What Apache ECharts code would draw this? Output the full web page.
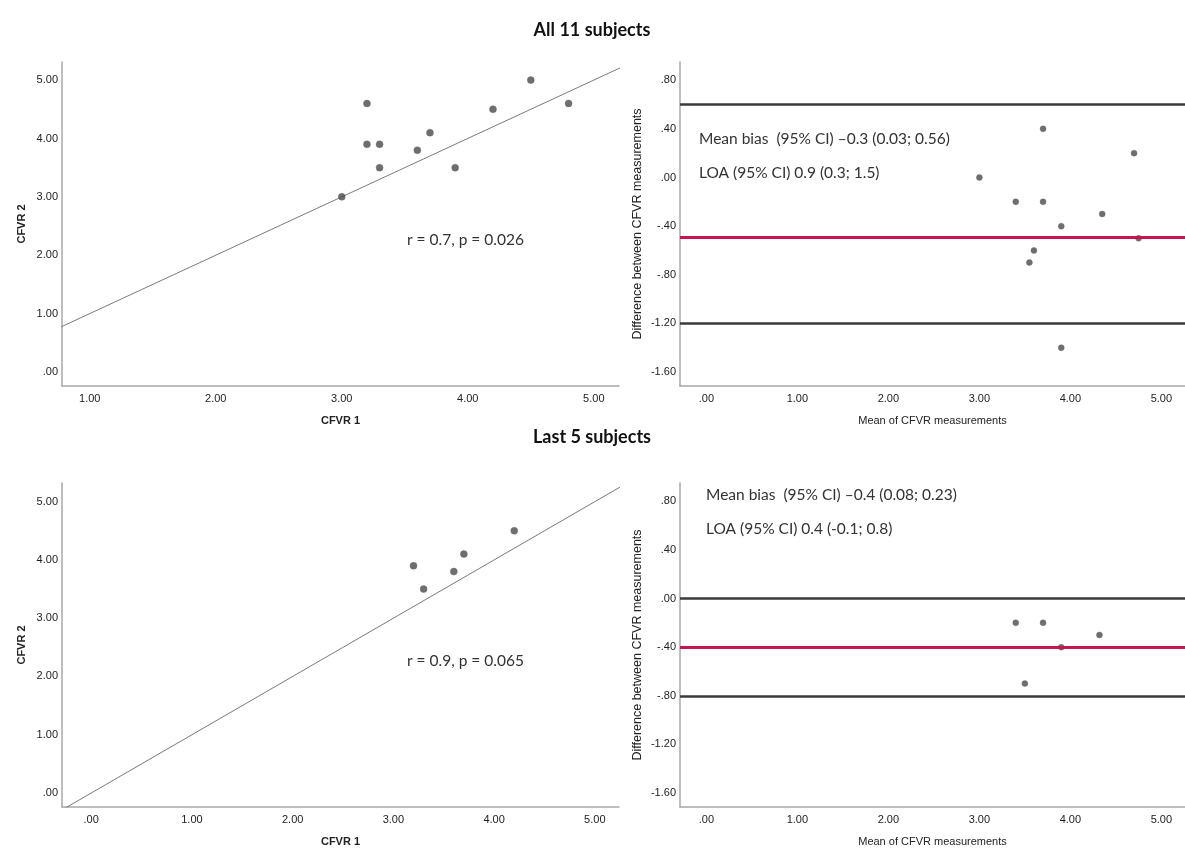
<!DOCTYPE html>
<html>
<head>
<meta charset="utf-8">
<script src="https://cdn.jsdelivr.net/npm/echarts@6/dist/echarts.min.js"></script>
<style>
html,body{margin:0;padding:0;background:#fff;}
#c{width:1185px;height:850px;}
</style>
</head>
<body>
<div id="c"></div>
<script>
// ---- data ----
// All 11 subjects: CFVR 1 vs CFVR 2
const allCfvr1 = [3.0, 3.2, 3.2, 3.3, 3.3, 3.6, 3.7, 3.9, 4.2, 4.5, 4.8];
const allCfvr2 = [3.0, 4.6, 3.9, 3.9, 3.5, 3.8, 4.1, 3.5, 4.5, 5.0, 4.6];
// All 11 subjects: Bland-Altman
const allMean = [3.0, 3.9, 3.55, 3.6, 3.4, 3.7, 3.9, 3.7, 4.35, 4.75, 4.7];
const allDiff = [0.0, -1.4, -0.7, -0.6, -0.2, -0.2, -0.4, 0.4, -0.3, -0.5, 0.2];
const allLoaLines = [0.6, -1.2];
const allBiasLine = [-0.49];
// Last 5 subjects
const lastCfvr1 = [3.2, 3.3, 3.6, 3.7, 4.2];
const lastCfvr2 = [3.9, 3.5, 3.8, 4.1, 4.5];
const lastMean = [3.5, 3.4, 3.7, 3.9, 4.32];
const lastDiff = [-0.7, -0.2, -0.2, -0.4, -0.3];
const lastLoaLines = [0.0, -0.8];
const lastBiasLine = [-0.4];
// tick labels
const tlXTicks = [1, 2, 3, 4, 5];
const blXTicks = [0, 1, 2, 3, 4, 5];
const scatterYTicks = [0, 1, 2, 3, 4, 5];
const baXTicks = [0, 1, 2, 3, 4, 5];
const baYTicks = [0.8, 0.4, 0, -0.4, -0.8, -1.2, -1.6];
// texts
const titles = ['All 11 subjects', 'Last 5 subjects'];
const corrTexts = ['r = 0.7, p = 0.026', 'r = 0.9, p = 0.065'];
const biasTexts = ['Mean bias  (95% CI) \u20130.3 (0.03; 0.56)', 'Mean bias  (95% CI) \u20130.4 (0.08; 0.23)'];
const loaTexts = ['LOA (95% CI) 0.9 (0.3; 1.5)', 'LOA (95% CI) 0.4 (-0.1; 0.8)'];

// ---- chart ----
function fmt(v) {
  let s = Math.abs(v).toFixed(2);
  if (s.charAt(0) === '0') s = s.slice(1);
  return (v < 0 ? '-' : '') + s;
}
const zip = (a, b) => a.map((v, i) => [v, b[i]]);

const grids = [
  {left: 62, top: 62, width: 557, height: 324},
  {left: 680, top: 62, width: 505, height: 324},
  {left: 62, top: 483, width: 557, height: 324},
  {left: 680, top: 483, width: 505, height: 324}
];
const ranges = {
  x: [[0.78, 5.2], [-0.29, 5.26], [-0.29, 5.24], [-0.29, 5.26]],
  y: [[-0.24, 5.31], [-1.715, 0.95], [-0.24, 5.32], [-1.715, 0.95]]
};
const xTicks = [tlXTicks, baXTicks, blXTicks, baXTicks];
const yTicks = [scatterYTicks, baYTicks, scatterYTicks, baYTicks];
const xNames = ['CFVR 1', 'Mean of CFVR measurements', 'CFVR 1', 'Mean of CFVR measurements'];
const yNames = ['CFVR 2', 'Difference between CFVR measurements', 'CFVR 2', 'Difference between CFVR measurements'];

const axisLine = {show: true, onZero: false, lineStyle: {color: '#a8a8a8', width: 1.5}};
const labelStyle = {fontFamily: 'Liberation Sans', fontSize: 11, color: '#222'};

const xAxis = grids.map((g, i) => ({
  type: 'value', gridIndex: i, min: ranges.x[i][0], max: ranges.x[i][1],
  axisLine: axisLine, axisTick: {show: false}, splitLine: {show: false},
  axisLabel: Object.assign({customValues: xTicks[i], formatter: fmt, margin: 7}, labelStyle),
  name: xNames[i], nameLocation: 'middle', nameGap: 29,
  nameTextStyle: {fontFamily: 'Liberation Sans', fontSize: 11, color: '#222', fontWeight: i % 2 === 0 ? 'bold' : 'normal'}
}));
const yAxis = grids.map((g, i) => ({
  type: 'value', gridIndex: i, min: ranges.y[i][0], max: ranges.y[i][1],
  axisLine: axisLine, axisTick: {show: false}, splitLine: {show: false},
  axisLabel: Object.assign({customValues: yTicks[i], formatter: fmt, margin: 4}, labelStyle),
  name: yNames[i], nameLocation: 'middle', nameGap: i % 2 === 0 ? 35 : 36,
  nameTextStyle: {fontFamily: 'Liberation Sans', color: '#222',
    fontSize: i % 2 === 0 ? 11 : 12.5, fontWeight: i % 2 === 0 ? 'bold' : 'normal'}
}));

const pointStyle = {color: '#4a4a4a', borderColor: '#6a6a6a', borderWidth: 0.5};
const identity = i => [[ranges.x[i][0] - 1, ranges.x[i][0] - 1], [ranges.x[i][1] + 1, ranges.x[i][1] + 1]];
const hLines = (vals, color, width) => vals.map(v => ({yAxis: v, lineStyle: {color: color, width: width, type: 'solid'}}));

const series = [
  {type: 'line', xAxisIndex: 0, yAxisIndex: 0, data: identity(0), symbol: 'none', clip: true,
   lineStyle: {color: '#7a7a7a', width: 1}, silent: true, z: 1},
  {type: 'scatter', xAxisIndex: 0, yAxisIndex: 0, data: zip(allCfvr1, allCfvr2), symbolSize: 7, itemStyle: pointStyle, z: 3},
  {type: 'scatter', xAxisIndex: 1, yAxisIndex: 1, data: zip(allMean, allDiff), symbolSize: 6, itemStyle: pointStyle, z: 3,
   markLine: {symbol: 'none', silent: true, label: {show: false},
     data: hLines(allLoaLines, '#3a3a3a', 2.5).concat(hLines(allBiasLine, '#c4174f', 3))}},
  {type: 'line', xAxisIndex: 2, yAxisIndex: 2, data: identity(2), symbol: 'none', clip: true,
   lineStyle: {color: '#7a7a7a', width: 1}, silent: true, z: 1},
  {type: 'scatter', xAxisIndex: 2, yAxisIndex: 2, data: zip(lastCfvr1, lastCfvr2), symbolSize: 7, itemStyle: pointStyle, z: 3},
  {type: 'scatter', xAxisIndex: 3, yAxisIndex: 3, data: zip(lastMean, lastDiff), symbolSize: 6, itemStyle: pointStyle, z: 3,
   markLine: {symbol: 'none', silent: true, label: {show: false},
     data: hLines(lastLoaLines, '#3a3a3a', 2.5).concat(hLines(lastBiasLine, '#c4174f', 3))}}
];

const annFont = {fontFamily: 'Lato', fontSize: 15.5, fill: '#333'};
const graphic = [
  {type: 'text', x: 592, y: 30, style: {text: titles[0], fontFamily: 'Lato', fontWeight: 'bold', fontSize: 18, fill: '#111', textAlign: 'center', textVerticalAlign: 'middle'}},
  {type: 'text', x: 592, y: 437, style: {text: titles[1], fontFamily: 'Lato', fontWeight: 'bold', fontSize: 18, fill: '#111', textAlign: 'center', textVerticalAlign: 'middle'}},
  {type: 'text', x: 407, y: 240, style: Object.assign({text: corrTexts[0], textVerticalAlign: 'middle'}, annFont)},
  {type: 'text', x: 407, y: 661, style: Object.assign({text: corrTexts[1], textVerticalAlign: 'middle'}, annFont)},
  {type: 'text', x: 699, y: 139, style: Object.assign({text: biasTexts[0], textVerticalAlign: 'middle'}, annFont)},
  {type: 'text', x: 699, y: 173, style: Object.assign({text: loaTexts[0], textVerticalAlign: 'middle'}, annFont)},
  {type: 'text', x: 706, y: 495, style: Object.assign({text: biasTexts[1], textVerticalAlign: 'middle'}, annFont)},
  {type: 'text', x: 706, y: 529, style: Object.assign({text: loaTexts[1], textVerticalAlign: 'middle'}, annFont)}
];

const chart = echarts.init(document.getElementById('c'), null, {renderer: 'canvas'});
chart.setOption({
  backgroundColor: '#fff',
  animation: false,
  grid: grids,
  xAxis: xAxis,
  yAxis: yAxis,
  series: series,
  graphic: graphic
});
</script>
</body>
</html>
